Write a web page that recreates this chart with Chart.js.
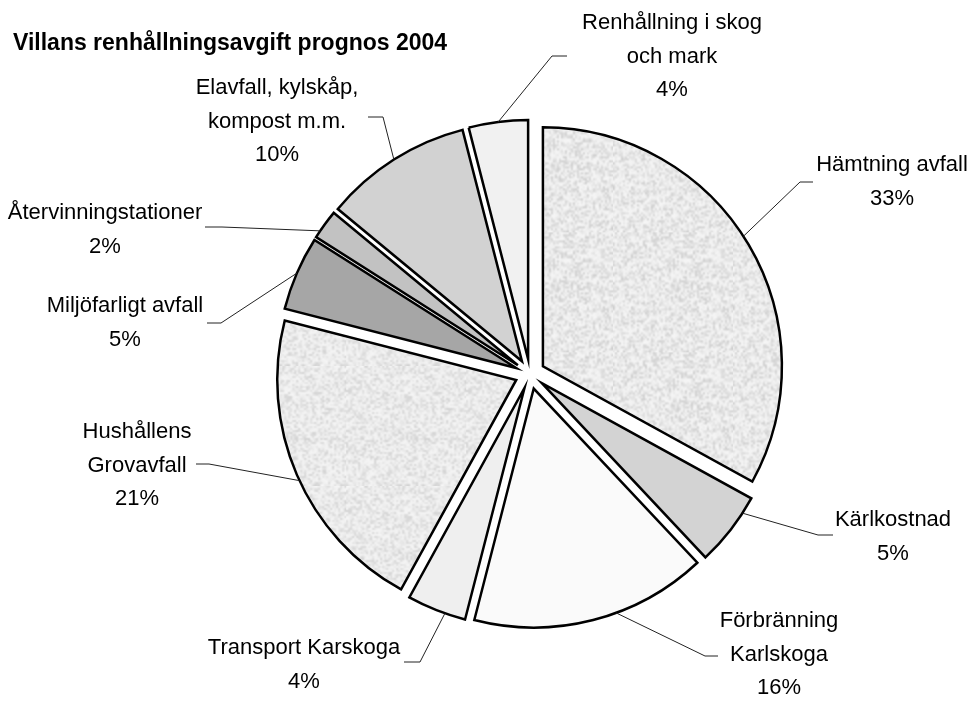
<!DOCTYPE html>
<html>
<head>
<meta charset="utf-8">
<title>Villans renhållningsavgift prognos 2004</title>
<script src="https://cdn.jsdelivr.net/npm/chart.js@4.4.1/dist/chart.umd.min.js"></script>
<style>
  html, body { margin: 0; padding: 0; background: #fff; }
  #pie { display: block; }
</style>
</head>
<body>
<canvas id="pie" width="968" height="702"></canvas>
<script>
var chartTitle = 'Villans renhållningsavgift prognos 2004';
var categories = [
    ['Hämtning avfall'],
    ['Kärlkostnad'],
    ['Förbränning', 'Karlskoga'],
    ['Transport Karskoga'],
    ['Hushållens', 'Grovavfall'],
    ['Miljöfarligt avfall'],
    ['Återvinningstationer'],
    ['Elavfall, kylskåp,', 'kompost m.m.'],
    ['Renhållning i skog', 'och mark']
];
var shares = [33, 5, 16, 4, 21, 5, 2, 10, 4];

(function () {
    "use strict";

    Chart.defaults.font.family = "'Liberation Sans', Arial, sans-serif";

    // grainy grey fill, like the old office textures
    function speckle(seed, base, spread) {
        var n = 60;
        var small = document.createElement('canvas');
        small.width = small.height = n;
        var sctx = small.getContext('2d');
        var img = sctx.createImageData(n, n);
        var s = seed;
        for (var i = 0; i < n * n; i++) {
            s = (s * 16807) % 2147483647;
            var r = s / 2147483647;
            var v = Math.round(base - spread * r * r);
            img.data[i * 4] = img.data[i * 4 + 1] = img.data[i * 4 + 2] = v;
            img.data[i * 4 + 3] = 255;
        }
        sctx.putImageData(img, 0, 0);
        var big = document.createElement('canvas');
        big.width = big.height = n * 2;
        var bctx = big.getContext('2d');
        bctx.imageSmoothingEnabled = true;
        bctx.drawImage(small, 0, 0, n * 2, n * 2);
        return bctx.createPattern(big, 'repeat');
    }

    var fills = [
        speckle(7, 246, 40),
        '#d3d3d3',
        '#fafafa',
        '#efefef',
        speckle(31, 245, 34),
        '#a6a6a6',
        '#c2c2c2',
        '#d2d2d2',
        '#f1f1f1'
    ];

    // where each callout sits: t = point along the slice rim, elbow / end of leader, text centre
    var callouts = [
        { t: 0.48, elbow: [800, 182], end: [813, 182], x: 892, y: 165 },
        { t: 0.23, elbow: [818, 535], end: [833, 535], x: 893, y: 520 },
        { t: 0.40, elbow: [705, 656], end: [718, 656], x: 779, y: 621 },
        { t: 0.35, elbow: [420, 662], end: [404, 662], x: 304, y: 648 },
        { t: 0.48, elbow: [209, 464], end: [196, 464], x: 137, y: 432 },
        { t: 0.50, elbow: [221, 323], end: [207, 323], x: 125, y: 306 },
        { t: 0.25, elbow: [222, 227], end: [205, 227], x: 105, y: 213 },
        { t: 0.50, elbow: [383, 117], end: [368, 117], x: 277, y: 88 },
        { t: 0.50, elbow: [552, 56], end: [567, 56], x: 672, y: 23 }
    ];

    // Exploded slices: draw every arc pushed out along its own bisector
    var explode = {
        id: 'explode',
        beforeDatasetDraw: function (chart, args, opts) {
            var ctx = chart.ctx;
            args.meta.data.forEach(function (arc) {
                var mid = (arc.startAngle + arc.endAngle) / 2;
                ctx.save();
                ctx.translate(Math.cos(mid) * opts.distance, Math.sin(mid) * opts.distance);
                arc.draw(ctx);
                ctx.restore();
            });
            return false;
        }
    };

    // Title and outside labels with leader lines
    var labelsOut = {
        id: 'labelsOut',
        afterDraw: function (chart) {
            var ctx = chart.ctx;
            var push = chart.options.plugins.explode.distance;
            var meta = chart.getDatasetMeta(0);
            var total = shares.reduce(function (a, b) { return a + b; }, 0);

            ctx.save();
            ctx.fillStyle = '#000';
            ctx.font = "bold 23px 'Liberation Sans', Arial, sans-serif";
            ctx.textAlign = 'left';
            ctx.textBaseline = 'alphabetic';
            ctx.fillText(chartTitle, 13, 50);

            ctx.font = "22px 'Liberation Sans', Arial, sans-serif";
            ctx.textAlign = 'center';
            ctx.textBaseline = 'middle';
            ctx.strokeStyle = '#222';
            ctx.lineWidth = 1;

            meta.data.forEach(function (arc, i) {
                var c = callouts[i];
                var mid = (arc.startAngle + arc.endAngle) / 2;
                var a = arc.startAngle + c.t * (arc.endAngle - arc.startAngle);
                var px = arc.x + Math.cos(mid) * push + Math.cos(a) * arc.outerRadius;
                var py = arc.y + Math.sin(mid) * push + Math.sin(a) * arc.outerRadius;

                ctx.beginPath();
                ctx.moveTo(px, py);
                ctx.lineTo(c.elbow[0], c.elbow[1]);
                ctx.lineTo(c.end[0], c.end[1]);
                ctx.stroke();

                var lines = categories[i].concat([Math.round(shares[i] / total * 100) + '%']);
                lines.forEach(function (line, k) {
                    ctx.fillText(line, c.x, c.y + k * 33.5);
                });
            });
            ctx.restore();
        }
    };

    new Chart(document.getElementById('pie'), {
        type: 'pie',
        data: {
            labels: categories,
            datasets: [{
                data: shares,
                backgroundColor: fills,
                borderColor: '#000',
                borderWidth: 2.5,
                borderJoinStyle: 'miter',
                radius: 239
            }]
        },
        options: {
            responsive: false,
            animation: false,
            events: [],
            layout: { padding: { left: 92, top: 46, right: 0, bottom: 0 } },
            plugins: {
                legend: { display: false },
                tooltip: { enabled: false },
                title: { display: false },
                explode: { distance: 15 }
            }
        },
        plugins: [explode, labelsOut]
    });
})();
</script>
</body>
</html>
